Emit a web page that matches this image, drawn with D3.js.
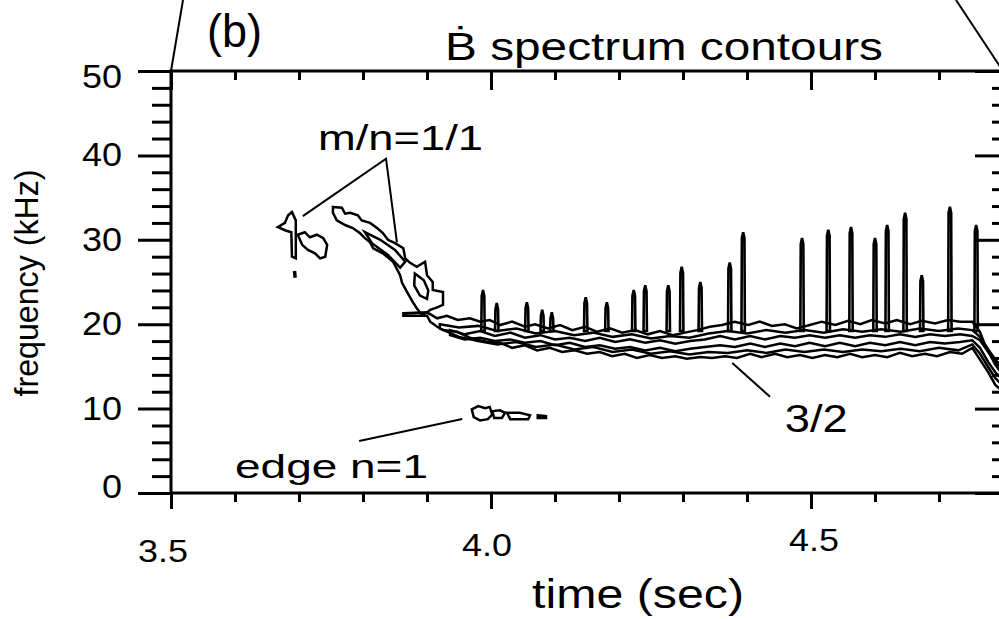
<!DOCTYPE html>
<html lang="en">
<head>
<meta charset="UTF-8">
<title>B-dot spectrum contours</title>
<script src="https://cdn.jsdelivr.net/npm/d3@7"></script>
<style>
  body { margin: 0; background: #fff; }
  svg { display: block; }
  svg text { font-family: "Liberation Sans", Arial, sans-serif; fill: #000; }
</style>
</head>
<body>
<svg id="chart" width="999" height="619"></svg>
<script>
// axes
const timeDomain = [3.5, 4.8];
const freqDomain = [0, 50];
const timeMajor = [3.5, 4.0, 4.5];
const timeLabels = ['3.5', '4.0', '4.5'];
const freqMajor = [0, 10, 20, 30, 40, 50];
const freqLabels = ['0', '10', '20', '30', '40', '50'];

// contour traces, [time (s), frequency (kHz)]
const blobA = [[3.667,31.5],[3.678,32.0],[3.683,32.9],[3.689,33.3],[3.695,32.3],[3.695,30.0],[3.695,27.8],
  [3.689,28.0],[3.688,30.9],[3.679,31.1]];
const blobB = [[3.698,30.6],[3.709,30.9],[3.717,30.3],[3.728,30.6],[3.738,30.2],[3.744,29.4],[3.741,28.0],
  [3.733,27.8],[3.725,28.4],[3.714,28.8],[3.705,29.4]];
const blobDot = [[3.693,26.3],[3.694,25.5]];

const mode11Upper = [[3.753,33.9],[3.767,33.8],[3.772,33.1],[3.780,33.2],[3.792,32.9],[3.798,32.3],[3.811,32.0],
  [3.822,31.4],[3.831,30.8],[3.839,30.0],[3.850,29.6],[3.863,29.0],[3.866,27.8],[3.873,27.3],[3.884,26.8],
  [3.897,27.4],[3.900,25.8],[3.909,25.0],[3.909,24.05],[3.925,23.8],[3.925,22.3],[3.916,22.0],[3.905,21.7],
  [3.900,21.4]];
const mode11Lower = [[3.753,33.2],[3.759,32.3],[3.772,31.75],[3.784,31.4],[3.795,30.8],[3.803,30.2],[3.811,29.7],
  [3.816,29.0],[3.831,28.4],[3.847,27.4],[3.858,25.8],[3.861,24.9],[3.869,23.8],[3.878,22.6],[3.884,21.9],
  [3.892,21.1]];
const mode11InnerA = [[3.803,30.9],[3.827,30.0],[3.850,28.8],[3.866,27.4],[3.858,26.7],[3.839,28.2],[3.814,29.6]];
const mode11InnerB = [[3.881,26.0],[3.895,25.2],[3.902,24.0],[3.900,23.0],[3.889,23.4],[3.880,24.6]];

const bandOuterTop = [[3.863,21.3],[3.900,21.4],[3.916,20.7],[3.931,21.0],[3.948,20.5],[3.967,20.7],[3.983,20.3],
  [3.998,20.5],[4.014,19.9],[4.033,20.3],[4.053,19.7],[4.069,20.0],[4.089,19.5],[4.108,19.9],[4.127,19.3],
  [4.147,19.7],[4.166,19.1],[4.186,19.5],[4.205,19.0],[4.225,19.3],[4.245,18.8],[4.264,19.2],[4.284,18.7],
  [4.303,19.0],[4.322,19.3],[4.342,19.7],[4.361,19.9],[4.381,20.3],[4.402,19.9],[4.420,20.3],[4.439,19.8],
  [4.459,20.0],[4.478,19.5],[4.498,19.9],[4.517,20.3],[4.538,19.9],[4.558,20.4],[4.577,20.0],[4.595,20.5],
  [4.616,20.1],[4.634,20.5],[4.655,20.0],[4.673,20.4],[4.694,20.1],[4.714,20.5],[4.733,20.3],[4.752,20.3],
  [4.764,19.1],[4.772,17.5],[4.780,16.35],[4.788,15.2],[4.800,14.0]];
const bandOuterBottom = [[3.863,21.0],[3.900,21.0],[3.905,20.3],[3.916,19.7],[3.925,19.3],[3.947,19.1],[3.967,18.4],
  [3.994,17.9],[4.014,17.8],[4.033,17.2],[4.053,17.5],[4.072,16.9],[4.092,17.2],[4.111,16.7],[4.131,16.9],
  [4.150,16.5],[4.170,16.7],[4.189,16.2],[4.209,16.5],[4.228,16.0],[4.248,16.35],[4.267,16.0],[4.288,16.2],
  [4.306,15.9],[4.327,16.1],[4.345,16.0],[4.366,16.2],[4.384,16.0],[4.405,16.5],[4.423,16.1],[4.444,16.5],
  [4.463,16.1],[4.483,16.35],[4.502,16.0],[4.522,16.35],[4.541,16.1],[4.561,16.5],[4.580,16.1],[4.600,16.35],
  [4.619,16.1],[4.639,16.6],[4.658,16.2],[4.678,16.5],[4.697,16.2],[4.717,16.7],[4.736,16.5],[4.752,17.2],
  [4.764,15.8],[4.777,14.3],[4.788,12.8],[4.800,12.0]];

const bandMidTop = [[3.920,20.0],[3.950,19.6],[3.980,19.8],[4.010,19.2],[4.040,19.5],[4.070,18.9],[4.100,19.2],
  [4.130,18.7],[4.160,19.0],[4.190,18.5],[4.220,18.8],[4.250,18.3],[4.280,18.6],[4.310,18.4],[4.340,18.9],
  [4.370,19.2],[4.400,18.9],[4.430,19.3],[4.460,19.0],[4.490,19.3],[4.520,19.0],[4.550,19.4],[4.580,19.1],
  [4.610,19.4],[4.640,19.1],[4.670,19.5],[4.700,19.2],[4.730,19.5],[4.752,19.3],[4.764,18.5],[4.777,17.0],
  [4.788,15.8],[4.800,14.8]];
const bandMidBottom = [[3.920,19.5],[3.950,18.5],[3.980,18.0],[4.010,17.6],[4.040,17.9],[4.070,17.3],[4.100,17.6],
  [4.130,17.0],[4.160,17.3],[4.190,16.7],[4.220,17.0],[4.250,16.5],[4.280,16.8],[4.310,16.4],[4.340,16.7],
  [4.370,16.6],[4.400,16.9],[4.430,16.6],[4.460,17.0],[4.490,16.7],[4.520,17.0],[4.550,16.7],[4.580,17.0],
  [4.610,16.8],[4.640,17.1],[4.670,16.8],[4.700,17.2],[4.730,16.9],[4.752,17.6],[4.764,16.5],[4.777,14.9],
  [4.788,13.6],[4.800,12.7]];

const bandInnerTop = [[3.936,19.3],[3.959,18.8],[3.983,19.2],[4.006,18.6],[4.030,19.0],[4.053,18.4],[4.077,18.7],
  [4.100,18.2],[4.123,18.4],[4.147,18.0],[4.170,18.4],[4.194,17.9],[4.217,18.2],[4.241,17.8],[4.264,18.1],
  [4.288,17.7],[4.311,18.0],[4.334,18.2],[4.358,18.6],[4.381,18.2],[4.405,18.6],[4.428,18.2],[4.452,18.6],
  [4.475,18.4],[4.498,18.7],[4.522,18.4],[4.545,18.7],[4.569,18.4],[4.592,18.7],[4.616,18.5],[4.639,18.8],
  [4.663,18.5],[4.686,18.8],[4.709,18.6],[4.733,18.8],[4.752,18.6],[4.764,18.1],[4.777,16.7],[4.788,15.5],
  [4.800,14.6]];
const bandInnerBottom = [[3.936,18.7],[3.959,18.2],[3.983,18.4],[4.006,18.0],[4.030,18.2],[4.053,17.8],[4.077,18.0],
  [4.100,17.5],[4.123,17.8],[4.147,17.3],[4.170,17.5],[4.194,17.1],[4.217,17.3],[4.241,16.9],[4.264,17.2],
  [4.288,16.8],[4.311,17.1],[4.334,17.3],[4.358,17.5],[4.381,17.3],[4.405,17.7],[4.428,17.3],[4.452,17.7],
  [4.475,17.4],[4.498,17.8],[4.522,17.4],[4.545,17.8],[4.569,17.4],[4.592,17.8],[4.616,17.5],[4.639,17.9],
  [4.663,17.5],[4.686,17.9],[4.709,17.7],[4.733,17.9],[4.752,18.1],[4.764,17.2],[4.777,15.5],[4.788,14.3],
  [4.800,13.4]];

// narrow bursts rising out of the 3/2 band
const spikeTimes = [3.9875, 4.009, 4.056, 4.080, 4.095, 4.148, 4.181, 4.223, 4.241, 4.277, 4.298, 4.327,
  4.373, 4.394, 4.486, 4.527, 4.5625, 4.600, 4.619, 4.647, 4.673, 4.717, 4.758];
const spikeTops = [24.05, 22.5, 22.6, 21.7, 21.4, 23.2, 22.6, 24.05, 24.6, 24.6, 26.8, 25.0,
  27.3, 30.9, 30.2, 31.2, 31.5, 30.2, 31.75, 33.2, 25.8, 33.9, 31.75];
const spikeBase = 19.2;

const edgeLoops = [
  [[3.970,9.9],[3.980,10.3],[3.991,10.05],[3.998,10.2],[4.002,9.3],[3.995,8.75],[3.983,8.6],[3.973,9.0]],
  [[4.002,9.7],[4.014,9.8],[4.022,9.5],[4.017,8.9],[4.005,8.9]],
  [[4.025,9.5],[4.045,9.5],[4.061,9.2],[4.058,8.75],[4.030,8.75]],
  [[4.073,9.2],[4.086,9.1],[4.086,8.9],[4.073,8.9]]
];

// annotations
const pointer11 = [[3.706,32.8],[3.836,39.6],[3.853,29.7]];
const pointerEdge = [[3.794,6.16],[3.955,8.77]];
const pointer32 = [[4.377,15.4],[4.436,11.4]];
const annoText = ['m/n=1/1', 'edge n=1', '3/2'];
const annoAt = [[3.7297,40.6],[3.6,1.78],[4.459,7.2]];

const svg = d3.select('#chart');
const x = d3.scaleLinear().domain(timeDomain).range([171, 1003]);
const y = d3.scaleLinear().domain(freqDomain).range([493, 71]);

svg.append('rect').attr('width', 999).attr('height', 619).attr('fill', '#fff');

svg.append('defs').append('clipPath').attr('id', 'plot').append('rect')
  .attr('x', x(3.5)).attr('y', y(50))
  .attr('width', x(4.8) - x(3.5)).attr('height', y(0) - y(50));

const line = d3.line().x(d => x(d[0])).y(d => y(d[1]));
const loop = d3.line().x(d => x(d[0])).y(d => y(d[1])).curve(d3.curveLinearClosed);

const g = svg.append('g').attr('clip-path', 'url(#plot)')
  .attr('fill', 'none').attr('stroke', '#000').attr('stroke-width', 2.5)
  .attr('stroke-linejoin', 'miter');

const loops = [
  blobA, blobB,
  mode11Upper.concat(mode11Lower.slice().reverse()),
  mode11InnerA, mode11InnerB,
  bandOuterTop.concat(bandOuterBottom.slice().reverse()),
  bandMidTop.concat(bandMidBottom.slice().reverse()),
  bandInnerTop.concat(bandInnerBottom.slice().reverse())
].concat(edgeLoops);

g.selectAll('path.contour')
  .data(loops)
  .join('path')
  .attr('class', 'contour')
  .attr('d', loop);

g.append('path').attr('d', line(blobDot)).attr('stroke-width', 3.5);

g.selectAll('path.spike')
  .data(spikeTimes.map((t, i) => [t, spikeTops[i]]))
  .join('path')
  .attr('class', 'spike')
  .attr('stroke-width', 2.6)
  .attr('d', d => {
    const cx = x(d[0]), top = y(d[1]), base = y(spikeBase);
    return `M${cx - 1.7},${base}L${cx - 1.3},${top + 6}L${cx},${top}L${cx + 1.3},${top + 6}L${cx + 1.7},${base}Z`;
  });

// frame and ticks
const frame = svg.append('g').attr('stroke', '#000').attr('stroke-width', 3);
frame.append('rect')
  .attr('x', x(3.5)).attr('y', y(50))
  .attr('width', x(4.8) - x(3.5)).attr('height', y(0) - y(50))
  .attr('fill', 'none');

const minorF = d3.range(0, 51, 2).filter(v => v % 10 !== 0);
const minorT = d3.range(35, 49).map(v => v / 10).filter(v => !timeMajor.includes(v) && v < 4.8);

function tidy(sel) {
  sel.select('.domain').remove();
  sel.attr('font-family', null);
  sel.selectAll('line').attr('stroke', '#000').attr('stroke-width', 3);
}

const left = svg.append('g').attr('transform', `translate(${x(3.5)},0)`)
  .call(d3.axisLeft(y).tickValues(freqMajor).tickSize(33).tickPadding(16)
    .tickFormat((d, i) => freqLabels[i]))
  .call(tidy);
left.selectAll('text')
  .attr('font-size', 33)
  .attr('y', d => d === 50 ? 6 : d === 0 ? -6 : 0)
  .attr('textLength', d => d === 0 ? 20 : 40)
  .attr('lengthAdjust', 'spacingAndGlyphs');
svg.append('g').attr('transform', `translate(${x(3.5)},0)`)
  .call(d3.axisLeft(y).tickValues(minorF).tickSize(19).tickFormat(''))
  .call(tidy);

svg.append('g').attr('transform', `translate(${x(4.8)},0)`)
  .call(d3.axisRight(y).tickValues(freqMajor).tickSize(-28).tickFormat(''))
  .call(tidy);
svg.append('g').attr('transform', `translate(${x(4.8)},0)`)
  .call(d3.axisRight(y).tickValues(minorF).tickSize(-11).tickFormat(''))
  .call(tidy);

svg.append('g').attr('transform', `translate(0,${y(0)})`)
  .call(d3.axisBottom(x).tickValues(timeMajor).tickSize(16).tickFormat(''))
  .call(tidy);
svg.append('g').attr('transform', `translate(0,${y(0)})`)
  .call(d3.axisBottom(x).tickValues(minorT).tickSize(9).tickFormat(''))
  .call(tidy);

svg.append('g').attr('transform', `translate(0,${y(50)})`)
  .call(d3.axisTop(x).tickValues(timeMajor).tickSize(-19).tickFormat(''))
  .call(tidy);
svg.append('g').attr('transform', `translate(0,${y(50)})`)
  .call(d3.axisTop(x).tickValues(minorT).tickSize(-9).tickFormat(''))
  .call(tidy);

// x tick labels sit on a slight slant in the original
const xLabelDx = [-8, -4, 3];
const xLabelBase = [562, 556, 551];
svg.selectAll('text.xlab')
  .data(timeMajor)
  .join('text')
  .attr('class', 'xlab')
  .attr('x', (d, i) => x(d) + xLabelDx[i])
  .attr('y', (d, i) => xLabelBase[i])
  .attr('text-anchor', 'middle')
  .attr('font-size', 32)
  .attr('textLength', 50).attr('lengthAdjust', 'spacingAndGlyphs')
  .text((d, i) => timeLabels[i]);

// axis titles
svg.append('text')
  .attr('transform', 'translate(38,283) rotate(-90)')
  .attr('text-anchor', 'middle')
  .attr('font-size', 33)
  .attr('textLength', 227).attr('lengthAdjust', 'spacingAndGlyphs')
  .text('frequency (kHz)');

svg.append('text')
  .attr('x', 532).attr('y', 608)
  .attr('font-size', 41)
  .attr('textLength', 212).attr('lengthAdjust', 'spacingAndGlyphs')
  .text('time (sec)');

svg.append('text')
  .attr('x', 207).attr('y', 47)
  .attr('font-size', 46)
  .attr('textLength', 55).attr('lengthAdjust', 'spacingAndGlyphs')
  .text('(b)');

svg.append('text')
  .attr('x', 445).attr('y', 60)
  .attr('font-size', 39)
  .attr('textLength', 438).attr('lengthAdjust', 'spacingAndGlyphs')
  .text('Ḃ spectrum contours');

// zoom-frame lines running off the top edge
svg.append('line')
  .attr('x1', x(3.5)).attr('y1', y(50)).attr('x2', 183).attr('y2', 0)
  .attr('stroke', '#000').attr('stroke-width', 2);
svg.append('line')
  .attr('x1', x(4.8)).attr('y1', y(50)).attr('x2', 956).attr('y2', 0)
  .attr('stroke', '#000').attr('stroke-width', 2);

// annotation pointers and labels
const ann = svg.append('g').attr('fill', 'none').attr('stroke', '#000').attr('stroke-width', 2);
[pointer11, pointerEdge, pointer32].forEach(p => ann.append('path').attr('d', line(p)));

const annoSize = [35, 34, 38];
const annoLen = [165, 193, 63];
svg.selectAll('text.anno')
  .data(annoText)
  .join('text')
  .attr('class', 'anno')
  .attr('x', (d, i) => x(annoAt[i][0]))
  .attr('y', (d, i) => y(annoAt[i][1]))
  .attr('font-size', (d, i) => annoSize[i])
  .attr('textLength', (d, i) => annoLen[i]).attr('lengthAdjust', 'spacingAndGlyphs')
  .text(d => d);
</script>
</body>
</html>
